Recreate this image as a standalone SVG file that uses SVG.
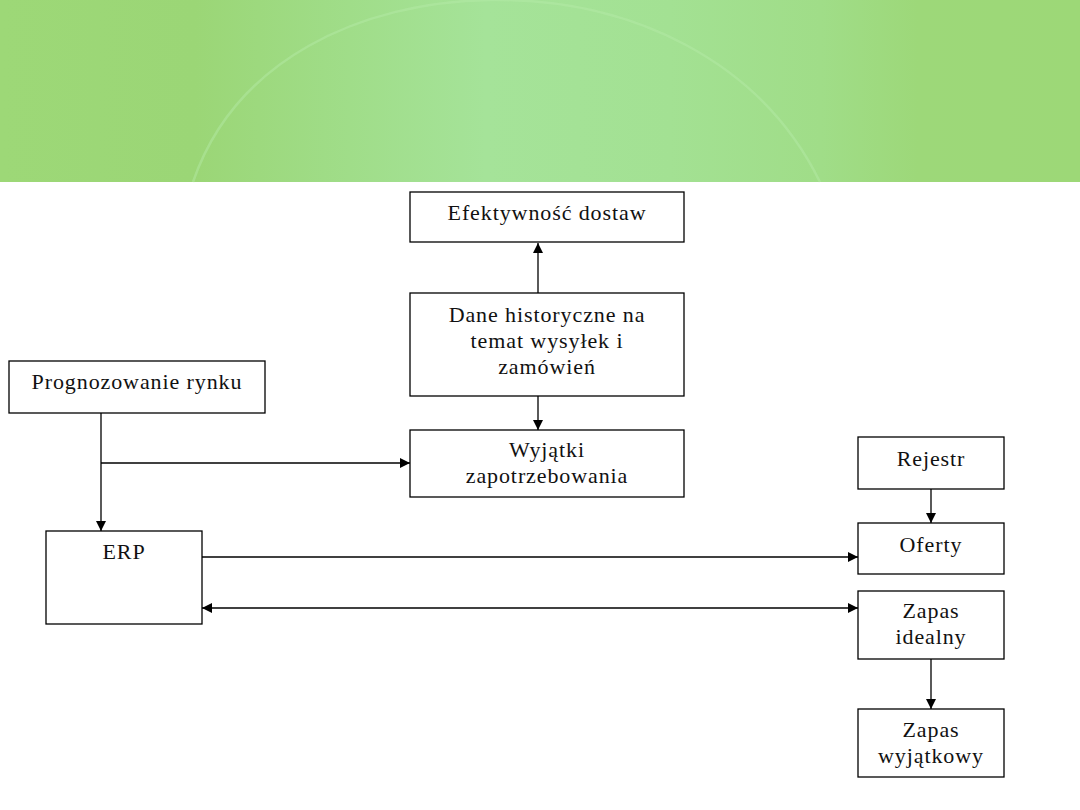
<svg xmlns="http://www.w3.org/2000/svg" width="1080" height="810" viewBox="0 0 1080 810">
<defs>
<linearGradient id="hdr" x1="0" y1="0" x2="1" y2="0">
<stop offset="0" stop-color="#9dd877"/>
<stop offset="0.18" stop-color="#9bd676"/>
<stop offset="0.3" stop-color="#9fdc86"/>
<stop offset="0.45" stop-color="#a5e399"/>
<stop offset="0.62" stop-color="#a3e193"/>
<stop offset="0.76" stop-color="#a0dd88"/>
<stop offset="0.85" stop-color="#9dd879"/>
<stop offset="1" stop-color="#9dd877"/>
</linearGradient>
<marker id="ah" viewBox="0 0 10 10" refX="10" refY="5" markerWidth="10" markerHeight="10" markerUnits="userSpaceOnUse" orient="auto-start-reverse">
<path d="M0,0 L10,5 L0,10 Z" fill="#000"/>
</marker>
<style>
.box{fill:#fff;stroke:#000;stroke-width:1.3}
.t{font-family:"Liberation Serif","Times New Roman",serif;font-size:22px;letter-spacing:0.9px;fill:#111;text-anchor:middle}
.c{fill:none;stroke:#000;stroke-width:1.3}
</style>
</defs>
<rect width="1080" height="810" fill="#fff"/>
<g id="header">
<rect x="0" y="0" width="1080" height="182" fill="url(#hdr)"/>
<path d="M193,182 C235,60 360,2 490,0 C630,-2 760,60 820,182" fill="none" stroke="#b6eaa9" stroke-opacity="0.45" stroke-width="2.5"/>
</g>
<g id="connectors">
<line class="c" x1="538" y1="293" x2="538" y2="243" marker-end="url(#ah)"/>
<line class="c" x1="538" y1="396" x2="538" y2="430" marker-end="url(#ah)"/>
<line class="c" x1="101" y1="413" x2="101" y2="531" marker-end="url(#ah)"/>
<line class="c" x1="101" y1="463" x2="410" y2="463" marker-end="url(#ah)"/>
<line class="c" x1="202" y1="557" x2="858" y2="557" marker-end="url(#ah)"/>
<line class="c" x1="202" y1="608" x2="858" y2="608" marker-start="url(#ah)" marker-end="url(#ah)"/>
<line class="c" x1="931" y1="489" x2="931" y2="523" marker-end="url(#ah)"/>
<line class="c" x1="931" y1="659" x2="931" y2="709" marker-end="url(#ah)"/>
</g>
<g id="efektywnosc">
<rect class="box" x="410" y="192" width="274" height="50"/>
<text class="t" x="547" y="220">Efektywność dostaw</text>
</g>
<g id="dane">
<rect class="box" x="410" y="293" width="274" height="103"/>
<text class="t" x="547" y="322">Dane historyczne na</text>
<text class="t" x="547" y="348">temat wysyłek i</text>
<text class="t" x="547" y="374">zamówień</text>
</g>
<g id="wyjatki">
<rect class="box" x="410" y="430" width="274" height="67"/>
<text class="t" x="547" y="457">Wyjątki</text>
<text class="t" x="547" y="483">zapotrzebowania</text>
</g>
<g id="prognozowanie">
<rect class="box" x="9" y="361" width="256" height="52"/>
<text class="t" x="137" y="389">Prognozowanie rynku</text>
</g>
<g id="erp">
<rect class="box" x="46" y="531" width="156" height="93"/>
<text class="t" x="124" y="559">ERP</text>
</g>
<g id="rejestr">
<rect class="box" x="858" y="437" width="146" height="52"/>
<text class="t" x="931" y="466">Rejestr</text>
</g>
<g id="oferty">
<rect class="box" x="858" y="523" width="146" height="51"/>
<text class="t" x="931" y="552">Oferty</text>
</g>
<g id="zapas-idealny">
<rect class="box" x="858" y="591" width="146" height="68"/>
<text class="t" x="931" y="618">Zapas</text>
<text class="t" x="931" y="644">idealny</text>
</g>
<g id="zapas-wyjatkowy">
<rect class="box" x="858" y="709" width="146" height="68"/>
<text class="t" x="931" y="737">Zapas</text>
<text class="t" x="931" y="763">wyjątkowy</text>
</g>
</svg>
